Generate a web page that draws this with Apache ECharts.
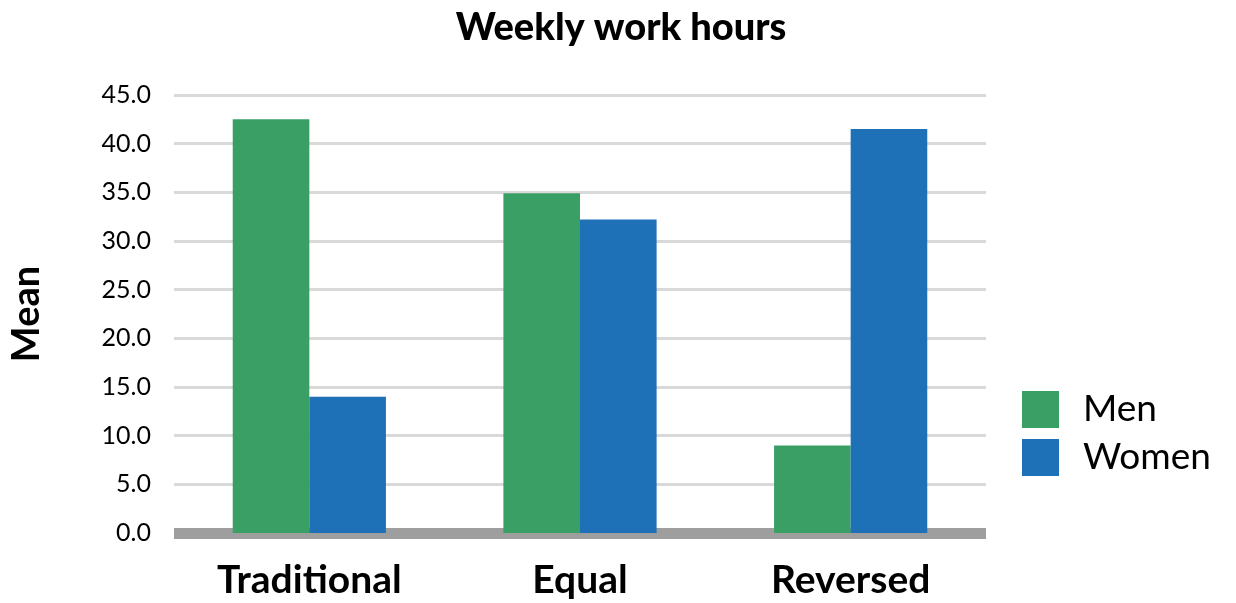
<!DOCTYPE html>
<html><head><meta charset="utf-8">
<script src="https://cdn.jsdelivr.net/npm/echarts@6/dist/echarts.min.js"></script>
<style>html,body{margin:0;padding:0;background:#fff}#c{width:1236px;height:603px}</style>
</head><body><div id="c"></div>
<script>
const categories = ['Traditional', 'Equal', 'Reversed'];
const men = [42.5, 34.9, 9.0];
const women = [14.0, 32.2, 41.5];
const seriesNames = ['Men', 'Women'];
const yMin = 0, yMax = 45, yStep = 5;

const FONT = 'Lato, "Open Sans", sans-serif';
const chart = echarts.init(document.getElementById('c'), null, {renderer: 'canvas'});
chart.setOption({
  animation: false,
  backgroundColor: '#fff',
  title: {
    text: 'Weekly work hours', left: 616, top: 4, textAlign: 'center',
    textStyle: {fontFamily: FONT, fontWeight: 900, fontSize: 38, color: '#000'}
  },
  legend: {
    orient: 'vertical', left: 1022, top: 391, itemWidth: 37, itemHeight: 37, itemGap: 11,
    padding: 0, icon: 'rect',
    textStyle: {fontFamily: FONT, fontSize: 37, lineHeight: 37, color: '#000', padding: [0, 0, 0, 19]},
    data: seriesNames
  },
  grid: {left: 170, right: 250, top: 95, bottom: 70, containLabel: false},
  xAxis: {
    type: 'category', data: categories,
    axisLine: {show: true, lineStyle: {color: '#9e9e9e', width: 11, cap: 'butt'}},
    axisTick: {show: false},
    axisLabel: {fontFamily: FONT, fontSize: 39, fontWeight: 'bold', color: '#000', margin: 28}
  },
  yAxis: {
    type: 'value', min: yMin, max: yMax, interval: yStep,
    name: 'Mean', nameLocation: 'middle', nameGap: 128, nameRotate: 90,
    nameTextStyle: {fontFamily: FONT, fontSize: 38, fontWeight: 'bold', color: '#000'},
    axisLine: {show: false}, axisTick: {show: false},
    axisLabel: {fontFamily: FONT, fontSize: 25, color: '#000', margin: 23, formatter: v => v.toFixed(1)},
    splitLine: {lineStyle: {color: '#d9d9d9', width: 3}}
  },
  series: [
    {name: seriesNames[0], type: 'bar', data: men, barWidth: '28.3%', barGap: '0%', itemStyle: {color: '#3a9f65'}},
    {name: seriesNames[1], type: 'bar', data: women, barWidth: '28.3%', barGap: '0%', itemStyle: {color: '#1e70b7'}}
  ]
});
</script></body></html>
